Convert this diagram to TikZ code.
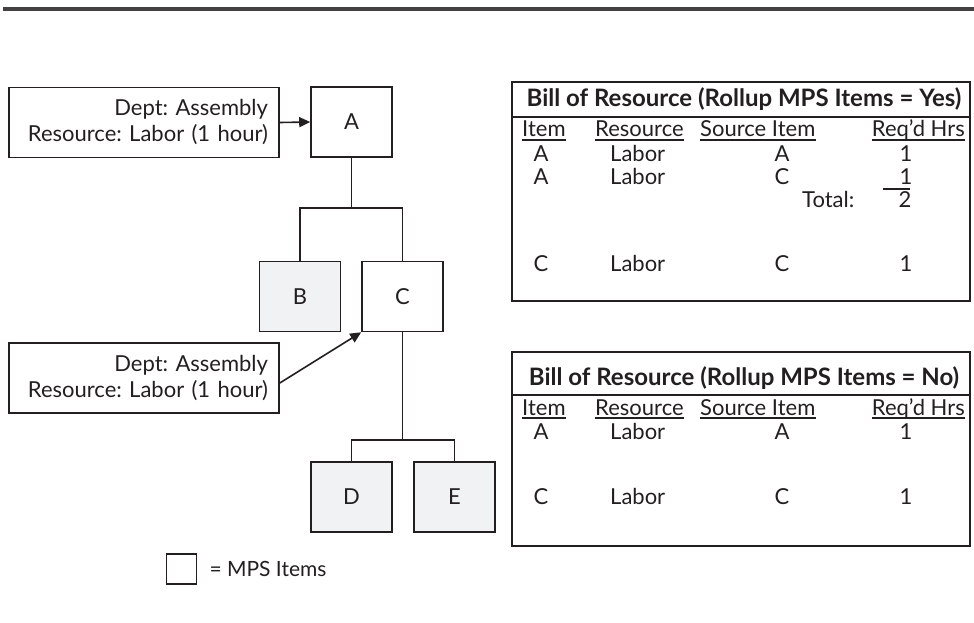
\documentclass[tikz,border=0pt]{standalone}
\usepackage{fontspec}
\setmainfont{Lato}
\usetikzlibrary{arrows.meta}
\definecolor{ink}{HTML}{231F20}
\definecolor{boxgray}{HTML}{F1F2F4}
\frenchspacing
\begin{document}
\begin{tikzpicture}[x=1pt,y=-1pt,
  item/.style={draw=ink, line width=1.6pt, minimum width=81pt, minimum height=70pt, inner sep=0pt,
    font=\fontsize{22}{26}\selectfont, text=ink},
  mps/.style={item, fill=white},
  sub/.style={item, fill=boxgray},
  note/.style={draw=ink, line width=1.6pt, minimum width=270pt, minimum height=70pt, inner xsep=11pt,
    text width=248pt, align=right, font=\fontsize{22}{26}\selectfont, text=ink},
  link/.style={draw=ink, line width=1.6pt},
  tip/.style={-{Triangle[length=11pt,width=10pt]}},
  cell/.style={anchor=base, inner sep=0pt, font=\fontsize{22}{26}\selectfont, text=ink},
  lcell/.style={cell, anchor=base west},
  rcell/.style={cell, anchor=base east},
  head/.style={anchor=base, inner sep=0pt, font=\bfseries\fontsize{24}{28}\selectfont, text=ink},
  frame/.style={draw=ink, line width=1.8pt},
  rule/.style={draw=ink, line width=1.2pt},
]
\useasboundingbox (0,0) rectangle (974,623);

% page rule
\draw[line width=4pt, ink!85] (3,9) -- (974,9);

% product structure
\node[mps] (A) at (351.5,122) {A};
\node[sub] (B) at (300,296.5) {B};
\node[mps] (C) at (402.5,296.5) {C};
\node[sub] (D) at (351.5,497) {D};
\node[sub] (E) at (454.5,497) {E};

\coordinate (j1) at (351.5,208);
\coordinate (j2) at (402.5,440);
\draw[link] (A.south) -- (j1);
\draw[link] (B.north) |- (j1) -| (C.north);
\draw[link] (C.south) -- (j2);
\draw[link] (D.north) |- (j2) -| (E.north);

% resource notes
\node[note] (lab1) at (144,122.5) {Dept: Assembly\\Resource: Labor (1 hour)};
\node[note] (lab2) at (144,378) {Dept: Assembly\\Resource: Labor (1 hour)};
\draw[link, tip] (lab1.east) -- (A.west);
\draw[link, tip] ([yshift=-5pt]lab2.east) -- (C.south west);

% legend
\node[draw=ink, line width=1.6pt, fill=white, minimum size=30pt, inner sep=0pt] (key) at (181.5,569) {};
\node[anchor=west, font=\fontsize{21}{24}\selectfont, text=ink, inner sep=0pt] (keytext) at ([xshift=12pt]key.east) {= MPS Items};

% bill of resource: rollup = yes
\draw[frame] (512,82) rectangle (970,301);
\node[head] (t1title) at (744,107) {Bill of Resource (Rollup MPS Items = Yes)};
\draw[rule] (512,117) -- (970,117);
\node[lcell] (h1a) at (522,137) {Item};
\node[lcell] (h1b) at (595,137) {Resource};
\node[lcell] (h1c) at (700,137) {Source Item};
\node[rcell] (h1d) at (965,137) {Req’d Hrs};
\foreach \h in {h1a,h1b,h1c,h1d}
  \draw[rule] ([yshift=-3pt]\h.base west) -- ([yshift=-3pt]\h.base east);
\node[cell] at (541,161) {A};
\node[lcell] at (610,161) {Labor};
\node[cell] at (782,161) {A};
\node[cell] at (906,161) {1};
\node[cell] at (541,184) {A};
\node[lcell] at (610,184) {Labor};
\node[cell] at (782,184) {C};
\node[cell] at (906,184) {1};
\draw[rule] (883,189) -- (910,189);
\node[lcell] at (802,207) {Total:};
\node[cell] at (905,207) {2};
\node[cell] at (541,271) {C};
\node[lcell] at (610,271) {Labor};
\node[cell] at (782,271) {C};
\node[cell] at (906,271) {1};

% bill of resource: rollup = no
\draw[frame] (512,352) rectangle (970,546);
\node[head] (t2title) at (744,385) {Bill of Resource (Rollup MPS Items = No)};
\draw[rule] (512,395) -- (970,395);
\node[lcell] (h2a) at (522,415) {Item};
\node[lcell] (h2b) at (595,415) {Resource};
\node[lcell] (h2c) at (700,415) {Source Item};
\node[rcell] (h2d) at (965,415) {Req’d Hrs};
\foreach \h in {h2a,h2b,h2c,h2d}
  \draw[rule] ([yshift=-3pt]\h.base west) -- ([yshift=-3pt]\h.base east);
\node[cell] at (541,439) {A};
\node[lcell] at (610,439) {Labor};
\node[cell] at (782,439) {A};
\node[cell] at (906,439) {1};
\node[cell] at (541,504) {C};
\node[lcell] at (610,504) {Labor};
\node[cell] at (782,504) {C};
\node[cell] at (906,504) {1};
\end{tikzpicture}
\end{document}
